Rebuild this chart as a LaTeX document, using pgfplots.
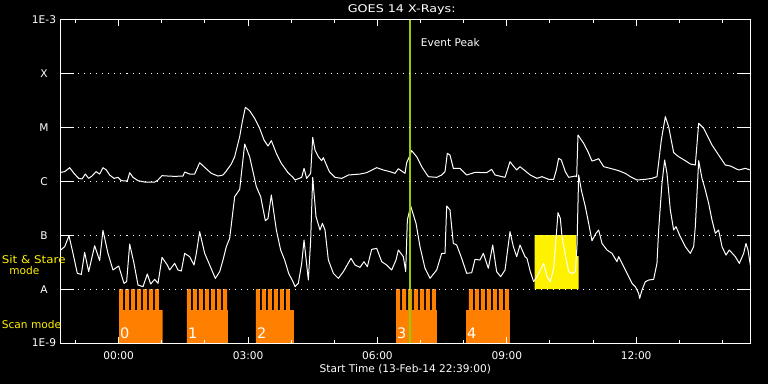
\documentclass[border=0pt]{standalone}
\usepackage{fontspec}
\setmainfont{DejaVu Sans}
\usepackage{graphicx}
\usepackage{pgfplots}
\pgfplotsset{compat=1.18}
\definecolor{scanorange}{RGB}{255,128,0}
\definecolor{peakgreen}{RGB}{153,204,0}
\begin{document}
\begin{tikzpicture}[font=\fontsize{10.6}{12}\selectfont]
\fill[black] (-60.5pt,-41pt) rectangle (707.5pt,343pt);
\begin{axis}[
 at={(0,0)}, anchor=south west, scale only axis, width=690pt, height=324pt,
 xmin=-1.35, xmax=14.65, ymin=-9, ymax=-3,
 axis line style={white, line width=1pt},
 axis on top,
 xtick={0,3,6,9,12}, xticklabels={00:00,03:00,06:00,09:00,12:00},
 minor xtick={-1,1,2,4,5,7,8,10,11,13,14},
 major tick length=6.5pt, minor tick length=3.5pt,
 tick style={white, line width=1pt},
 ytick={-9,-8,...,-3},
 yticklabels={\raisebox{3pt}{1E-9},A,B,C,M,X,\raisebox{-3pt}{1E-3}},
 ytick style={draw=none},
 ymajorgrids, major grid style={white, line width=1pt, dash pattern=on 1pt off 5pt},
 ticklabel style={white},
 yticklabel style={anchor=center, xshift=-16.5pt, yshift=-1pt},
 xticklabel style={anchor=base, yshift=-16pt},
]
% scan mode blocks
\addplot[fill=scanorange, draw=none] coordinates {(0.007,-9) (0.007,-8) (0.100,-8) (0.100,-8.389) (0.146,-8.389) (0.146,-8) (0.239,-8) (0.239,-8.389) (0.285,-8.389) (0.285,-8) (0.378,-8) (0.378,-8.389) (0.424,-8.389) (0.424,-8) (0.517,-8) (0.517,-8.389) (0.563,-8.389) (0.563,-8) (0.656,-8) (0.656,-8.389) (0.702,-8.389) (0.702,-8) (0.795,-8) (0.795,-8.389) (0.841,-8.389) (0.841,-8) (0.934,-8) (0.934,-8.389) (1.020,-8.389) (1.020,-9)};
\addplot[fill=scanorange, draw=none] coordinates {(1.583,-9) (1.583,-8) (1.676,-8) (1.676,-8.389) (1.722,-8.389) (1.722,-8) (1.815,-8) (1.815,-8.389) (1.861,-8.389) (1.861,-8) (1.954,-8) (1.954,-8.389) (2.000,-8.389) (2.000,-8) (2.093,-8) (2.093,-8.389) (2.140,-8.389) (2.140,-8) (2.233,-8) (2.233,-8.389) (2.279,-8.389) (2.279,-8) (2.372,-8) (2.372,-8.389) (2.418,-8.389) (2.418,-8) (2.511,-8) (2.511,-8.389) (2.534,-8.389) (2.534,-9)};
\addplot[fill=scanorange, draw=none] coordinates {(3.183,-9) (3.183,-8) (3.276,-8) (3.276,-8.389) (3.322,-8.389) (3.322,-8) (3.415,-8) (3.415,-8.389) (3.461,-8.389) (3.461,-8) (3.554,-8) (3.554,-8.389) (3.600,-8.389) (3.600,-8) (3.693,-8) (3.693,-8.389) (3.739,-8.389) (3.739,-8) (3.832,-8) (3.832,-8.389) (3.878,-8.389) (3.878,-8) (3.971,-8) (3.971,-8.389) (4.064,-8.389) (4.064,-9)};
\addplot[fill=scanorange, draw=none] coordinates {(6.430,-9) (6.430,-8) (6.523,-8) (6.523,-8.389) (6.569,-8.389) (6.569,-8) (6.662,-8) (6.662,-8.389) (6.708,-8.389) (6.708,-8) (6.801,-8) (6.801,-8.389) (6.847,-8.389) (6.847,-8) (6.940,-8) (6.940,-8.389) (6.986,-8.389) (6.986,-8) (7.079,-8) (7.079,-8.389) (7.125,-8.389) (7.125,-8) (7.218,-8) (7.218,-8.389) (7.264,-8.389) (7.264,-8) (7.357,-8) (7.357,-8.389) (7.380,-8.389) (7.380,-9)};
\addplot[fill=scanorange, draw=none] coordinates {(8.053,-9) (8.053,-8.389) (8.122,-8.389) (8.122,-8) (8.215,-8) (8.215,-8.389) (8.261,-8.389) (8.261,-8) (8.354,-8) (8.354,-8.389) (8.400,-8.389) (8.400,-8) (8.493,-8) (8.493,-8.389) (8.539,-8.389) (8.539,-8) (8.632,-8) (8.632,-8.389) (8.678,-8.389) (8.678,-8) (8.771,-8) (8.771,-8.389) (8.817,-8.389) (8.817,-8) (8.910,-8) (8.910,-8.389) (8.956,-8.389) (8.956,-8) (9.049,-8) (9.049,-8.389) (9.073,-8.389) (9.073,-9)};
% sit & stare block
\addplot[fill=yellow, draw=none] coordinates {(9.646,-8) (9.646,-7) (10.610,-7) (10.610,-7.389) (10.666,-7.389) (10.666,-8)};
% GOES long channel (1-8 A), log10 flux
\addplot[white, line width=1pt, line join=round] coordinates {
(-1.346,-5.840) (-1.253,-5.827) (-1.137,-5.753) (-1.037,-5.858) (-0.929,-5.951) (-0.851,-5.963) (-0.774,-5.871) (-0.697,-5.951) (-0.620,-5.908) (-0.527,-5.827) (-0.442,-5.871) (-0.365,-5.753) (-0.287,-5.796) (-0.210,-5.889) (-0.109,-5.951) (-0.017,-5.932) (0.061,-5.994) (0.200,-6.000) (0.254,-5.846) (0.331,-5.932) (0.447,-5.994) (0.602,-6.019) (0.834,-6.019) (0.911,-5.982) (1.004,-5.901) (1.143,-5.908) (1.297,-5.914) (1.491,-5.908) (1.529,-5.834) (1.645,-5.871) (1.761,-5.871) (1.877,-5.661) (1.993,-5.747) (2.148,-5.858) (2.302,-5.908) (2.418,-5.889) (2.495,-5.815) (2.611,-5.685) (2.689,-5.550) (2.805,-5.179) (2.866,-4.901) (2.936,-4.636) (3.036,-4.698) (3.152,-4.840) (3.268,-5.025) (3.369,-5.241) (3.462,-5.352) (3.539,-5.253) (3.655,-5.488) (3.771,-5.673) (3.925,-5.846) (4.041,-5.932)
(4.088,-5.982) (4.243,-5.932) (4.297,-5.766) (4.358,-5.951) (4.451,-5.858) (4.498,-5.192) (4.552,-5.426) (4.629,-5.550) (4.706,-5.624) (4.745,-5.568) (4.807,-5.685) (4.884,-5.827) (5.015,-5.932) (5.170,-5.951) (5.325,-5.889) (5.595,-5.871) (5.750,-5.846) (5.982,-5.753) (6.136,-5.796) (6.291,-5.827) (6.407,-5.858) (6.484,-5.772) (6.639,-5.858) (6.677,-5.661) (6.739,-5.550) (6.793,-5.438) (6.909,-5.550) (7.025,-5.735) (7.180,-5.920) (7.373,-5.932) (7.489,-5.889) (7.566,-5.827) (7.620,-5.488) (7.682,-5.519) (7.759,-5.766) (7.914,-5.766) (8.069,-5.889) (8.262,-5.840) (8.532,-5.846) (8.648,-5.784) (8.726,-5.889) (8.958,-5.932) (9.073,-5.642) (9.151,-5.722) (9.228,-5.796) (9.305,-5.735) (9.421,-5.809)
(9.544,-5.889) (9.699,-5.951) (9.815,-5.920) (9.969,-5.969) (10.085,-5.969) (10.147,-5.796) (10.201,-5.580) (10.263,-5.611) (10.356,-5.827) (10.433,-5.932) (10.588,-5.908) (10.619,-5.920) (10.650,-5.148) (10.781,-5.303) (10.881,-5.457) (10.974,-5.630) (11.051,-5.611) (11.129,-5.587) (11.245,-5.735) (11.399,-5.766) (11.593,-5.809) (11.747,-5.858) (11.863,-5.920) (12.018,-5.982) (12.211,-5.969) (12.365,-5.951) (12.481,-5.920) (12.582,-5.241) (12.675,-4.809) (12.752,-4.994) (12.868,-5.475) (12.984,-5.550) (13.138,-5.624) (13.254,-5.685) (13.370,-5.704) (13.448,-4.932) (13.564,-5.025) (13.757,-5.334) (13.911,-5.519) (14.066,-5.704) (14.182,-5.722) (14.375,-5.796) (14.530,-5.766) (14.646,-5.796)};
% GOES short channel (0.5-4 A), log10 flux
\addplot[white, line width=1pt, line join=round] coordinates {
(-1.346,-7.278) (-1.253,-7.216) (-1.153,-7.013) (-1.060,-7.340) (-0.960,-7.710) (-0.867,-7.729) (-0.790,-7.321) (-0.697,-7.679) (-0.558,-7.198) (-0.442,-7.475) (-0.365,-6.914) (-0.249,-7.340) (-0.133,-7.648) (-0.001,-7.574) (0.122,-7.895) (0.184,-7.864) (0.254,-7.167) (0.354,-7.525) (0.447,-7.926) (0.563,-7.957) (0.664,-7.722) (0.741,-7.908) (0.834,-7.821) (0.911,-7.895) (1.004,-7.414) (1.127,-7.556) (1.181,-7.648) (1.297,-7.525) (1.375,-7.648) (1.452,-7.667) (1.529,-7.340) (1.645,-7.401) (1.746,-7.556) (1.800,-7.340) (1.877,-6.938) (1.993,-7.340) (2.109,-7.556) (2.240,-7.803) (2.341,-7.679) (2.418,-7.463) (2.495,-7.216) (2.573,-7.062) (2.689,-6.290) (2.805,-6.155) (2.921,-5.315) (3.036,-5.550) (3.191,-6.105) (3.292,-6.290) (3.400,-6.735) (3.462,-6.692) (3.539,-6.259) (3.655,-6.908) (3.755,-7.278) (3.848,-7.463) (3.941,-7.710) (4.041,-7.864)
(4.088,-7.957) (4.165,-7.895) (4.243,-7.525) (4.297,-7.093) (4.397,-7.834) (4.451,-7.093) (4.498,-5.932) (4.575,-6.661) (4.668,-6.908) (4.722,-6.784) (4.784,-6.908) (4.861,-7.463) (4.977,-7.710) (5.093,-7.803) (5.209,-7.679) (5.386,-7.432) (5.479,-7.556) (5.595,-7.599) (5.688,-7.494) (5.765,-7.587) (5.866,-7.266) (5.982,-7.247) (6.098,-7.494) (6.214,-7.556) (6.329,-7.648) (6.430,-7.463) (6.484,-7.278) (6.600,-7.401) (6.654,-7.679) (6.693,-6.722) (6.770,-6.463) (6.894,-6.784) (6.986,-7.216) (7.102,-7.617) (7.218,-7.803) (7.373,-7.648) (7.489,-7.340) (7.566,-7.340) (7.605,-6.463) (7.682,-6.537) (7.759,-7.155) (7.837,-7.185) (7.953,-7.432) (8.069,-7.710) (8.185,-7.698) (8.262,-7.451) (8.378,-7.463) (8.455,-7.340) (8.571,-7.617) (8.672,-7.185) (8.764,-7.679) (8.857,-7.772) (8.958,-7.648) (9.073,-6.938) (9.151,-7.216) (9.228,-7.401) (9.305,-7.185) (9.421,-7.401)
(9.467,-7.432) (9.544,-7.679) (9.622,-7.864) (9.699,-7.772) (9.776,-7.648) (9.853,-7.525) (9.931,-7.772) (10.008,-7.864) (10.085,-7.617) (10.147,-7.000) (10.186,-6.587) (10.240,-6.692) (10.279,-7.031) (10.356,-7.371) (10.433,-7.679) (10.510,-7.710) (10.588,-7.679) (10.626,-7.216) (10.665,-5.889) (10.727,-6.167) (10.820,-6.475) (10.897,-6.784) (10.974,-7.105) (11.067,-6.969) (11.129,-6.908) (11.206,-7.155) (11.322,-7.278) (11.438,-7.340) (11.554,-7.494) (11.593,-7.401) (11.670,-7.525) (11.786,-7.710) (11.902,-7.895) (11.979,-7.957) (12.056,-8.080) (12.080,-8.173) (12.134,-8.019) (12.211,-7.864) (12.288,-7.834) (12.404,-7.821) (12.481,-7.525) (12.520,-6.908) (12.597,-6.043) (12.659,-5.611) (12.713,-5.858) (12.791,-6.537) (12.868,-6.908) (12.922,-6.846) (13.022,-7.031) (13.138,-7.216) (13.254,-7.340) (13.332,-7.216) (13.370,-6.846) (13.448,-5.624) (13.525,-5.951) (13.602,-6.167) (13.680,-6.414) (13.757,-6.722) (13.834,-6.969) (13.911,-6.908) (13.989,-7.216) (14.081,-7.371) (14.159,-7.278) (14.298,-7.401) (14.391,-7.525) (14.491,-7.340) (14.545,-7.155) (14.592,-7.278) (14.646,-7.556)};
% event peak
\addplot[peakgreen, line width=2pt] coordinates {(6.754,-9) (6.754,-3)};
% block numbers
\node[white, inner sep=0pt, anchor=base west, font=\fontsize{14.5}{16}\selectfont, xshift=1pt, yshift=4.7pt] at (axis cs:0.007,-9) {0};
\node[white, inner sep=0pt, anchor=base west, font=\fontsize{14.5}{16}\selectfont, xshift=1pt, yshift=4.7pt] at (axis cs:1.583,-9) {1};
\node[white, inner sep=0pt, anchor=base west, font=\fontsize{14.5}{16}\selectfont, xshift=1pt, yshift=4.7pt] at (axis cs:3.183,-9) {2};
\node[white, inner sep=0pt, anchor=base west, font=\fontsize{14.5}{16}\selectfont, xshift=1pt, yshift=4.7pt] at (axis cs:6.430,-9) {3};
\node[white, inner sep=0pt, anchor=base west, font=\fontsize{14.5}{16}\selectfont, xshift=1pt, yshift=4.7pt] at (axis cs:8.053,-9) {4};
% y tick marks (inward, both sides)
\draw[white, line width=1pt] (axis cs:-1.35,-8) -- ++(14pt,0pt);
\draw[white, line width=1pt] (axis cs:-1.35,-7) -- ++(14pt,0pt);
\draw[white, line width=1pt] (axis cs:-1.35,-6) -- ++(14pt,0pt);
\draw[white, line width=1pt] (axis cs:-1.35,-5) -- ++(14pt,0pt);
\draw[white, line width=1pt] (axis cs:-1.35,-4) -- ++(14pt,0pt);
\draw[white, line width=1pt] (axis cs:14.65,-8) -- ++(-14pt,0pt);
\draw[white, line width=1pt] (axis cs:14.65,-7) -- ++(-14pt,0pt);
\draw[white, line width=1pt] (axis cs:14.65,-6) -- ++(-14pt,0pt);
\draw[white, line width=1pt] (axis cs:14.65,-5) -- ++(-14pt,0pt);
\draw[white, line width=1pt] (axis cs:14.65,-4) -- ++(-14pt,0pt);
\end{axis}
\node[white, inner sep=0pt, anchor=base] at (341.2pt,330.3pt) {\scalebox{1.2}[1]{GOES 14 X-Rays:}};
\node[white, inner sep=0pt, anchor=base] at (344.8pt,-29pt) {Start Time (13-Feb-14 22:39:00)};
\node[white, inner sep=0pt, anchor=base west] at (360.2pt,296.3pt) {Event Peak};
\node[yellow, inner sep=0pt, anchor=base west] at (-58.8pt,80pt) {\scalebox{1.12}[1]{Sit \& Stare}};
\node[yellow, inner sep=0pt, anchor=base] at (-36.2pt,68.7pt) {mode};
\node[yellow, inner sep=0pt, anchor=base west] at (-58.8pt,15pt) {Scan mode};
\end{tikzpicture}
\end{document}
